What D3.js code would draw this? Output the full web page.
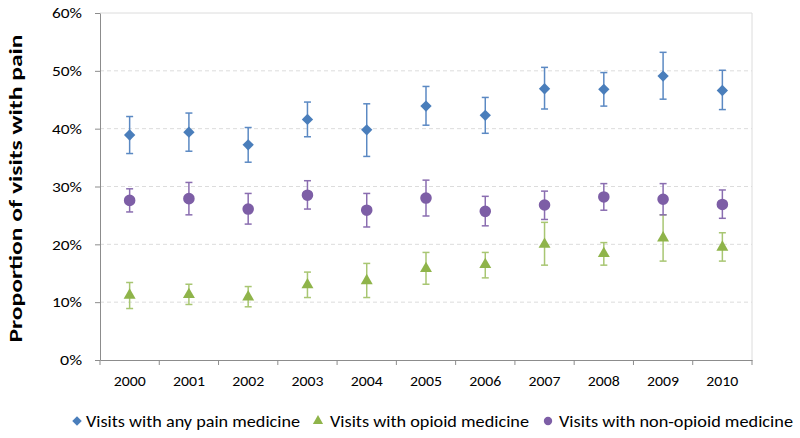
<!DOCTYPE html>
<html><head><meta charset="utf-8">
<script src="https://cdn.jsdelivr.net/npm/d3@7"></script>
<style>body{margin:0;background:#fff}svg{display:block}</style>
</head><body>
<script>
const years = ["2000","2001","2002","2003","2004","2005","2006","2007","2008","2009","2010"];
const anyPain = [38.9,39.4,37.2,41.6,39.8,43.9,42.3,46.9,46.8,49.1,46.6];
const anyPainLo = [35.7,36.1,34.2,38.6,35.2,40.6,39.2,43.4,43.9,45.1,43.3];
const anyPainHi = [42.1,42.7,40.2,44.6,44.3,47.3,45.4,50.6,49.7,53.2,50.1];
const opioid = [11.2,11.3,10.9,13.0,13.7,15.8,16.5,20.0,18.4,21.1,19.5];
const opioidLo = [8.9,9.6,9.2,10.8,10.8,13.1,14.2,16.4,16.4,17.1,17.1];
const opioidHi = [13.4,13.1,12.7,15.2,16.7,18.6,18.6,23.8,20.3,25.1,22.0];
const nonOpioid = [27.6,27.9,26.1,28.5,25.9,28.0,25.7,26.8,28.2,27.8,26.9];
const nonOpioidLo = [25.6,25.1,23.5,26.1,23.0,24.9,23.2,24.3,25.9,25.1,24.5];
const nonOpioidHi = [29.6,30.7,28.8,31.0,28.8,31.1,28.3,29.2,30.5,30.5,29.4];
const yTicks = [0,10,20,30,40,50,60];
const seriesNames = ["Visits with any pain medicine","Visits with opioid medicine","Visits with non-opioid medicine"];

const W=800,H=438;
const L=100,R=752,T=13,B=360;
const svg=d3.select("body").append("svg").attr("width",W).attr("height",H);
const font="Carlito, 'Open Sans', sans-serif";

const x=d3.scaleBand().domain(years).range([L,R]).paddingInner(0).paddingOuter(0);
const y=d3.scaleLinear().domain([0,60]).range([B,T]);

// grid
svg.append("g").selectAll("line").data(yTicks.filter(t=>t>0&&t<60)).join("line")
  .attr("x1",L).attr("x2",R).attr("y1",d=>y(d)).attr("y2",d=>y(d))
  .attr("stroke","#dcdcdc").attr("stroke-dasharray","4,3");
// plot border top/right
svg.append("path").attr("d",`M${L},${y(60)}H${R}V${B}`).attr("fill","none").attr("stroke","#dcdcdc");

// axes
const yAxis=d3.axisLeft(y).tickValues(yTicks).tickFormat(d=>d+"%").tickSize(5).tickSizeOuter(0);
const gy=svg.append("g").attr("transform",`translate(${L},0)`).call(yAxis);
gy.select(".domain").attr("stroke","#8c8c8c");
gy.selectAll(".tick line").attr("stroke","#8c8c8c");
gy.selectAll("text").attr("font-family",font).attr("font-size",15).attr("fill","#000").attr("x",-18)
  .attr("textLength",30).attr("lengthAdjust","spacingAndGlyphs");
gy.selectAll(".tick").filter(d=>d===0).select("text").attr("textLength",22);

const xAxis=d3.axisBottom(x).tickSize(0).tickSizeOuter(0);
const gx=svg.append("g").attr("transform",`translate(0,${B})`).call(xAxis);
gx.select(".domain").attr("stroke","#8c8c8c");
gx.selectAll("text").attr("font-family",font).attr("font-size",14).attr("fill","#000").attr("y",16).attr("dy","0.71em")
  .attr("textLength",32).attr("lengthAdjust","spacingAndGlyphs");
// boundary ticks
const bounds=years.map(d=>x(d)).concat([R]);
gx.append("g").selectAll("line").data(bounds).join("line")
  .attr("x1",d=>d).attr("x2",d=>d).attr("y1",0).attr("y2",5).attr("stroke","#8c8c8c");

// y title
svg.append("text").attr("transform",`translate(22,${(T+B)/2+2}) rotate(-90)`)
  .attr("text-anchor","middle").attr("font-family",font).attr("font-weight","bold")
  .attr("font-size",18).attr("textLength",308).attr("lengthAdjust","spacingAndGlyphs")
  .text("Proportion of visits with pain");

const diamond={draw(ctx,size){const r=Math.sqrt(size/2);ctx.moveTo(0,-r);ctx.lineTo(r,0);ctx.lineTo(0,r);ctx.lineTo(-r,0);ctx.closePath();}};
const series=[
  {v:anyPain,lo:anyPainLo,hi:anyPainHi,color:"#4a7ebb",err:"#5b89c3",sym:diamond,size:64},
  {v:opioid,lo:opioidLo,hi:opioidHi,color:"#8fb44a",err:"#a8c672",sym:d3.symbolTriangle,size:62},
  {v:nonOpioid,lo:nonOpioidLo,hi:nonOpioidHi,color:"#7d5ea6",err:"#8a6db0",sym:d3.symbolCircle,size:105}
];
const cx=d=>x(d)+x.bandwidth()/2;
series.forEach(s=>{
  const g=svg.append("g");
  years.forEach((yr,i)=>{
    const X=cx(yr);
    g.append("line").attr("x1",X).attr("x2",X).attr("y1",y(s.lo[i])).attr("y2",y(s.hi[i])).attr("stroke",s.err).attr("stroke-width",1.5);
    [s.lo[i],s.hi[i]].forEach(v=>g.append("line").attr("x1",X-3.5).attr("x2",X+3.5).attr("y1",y(v)).attr("y2",y(v)).attr("stroke",s.err).attr("stroke-width",1.5));
  });
});
series.forEach(s=>{
  svg.append("g").selectAll("path").data(years).join("path")
    .attr("transform",(d,i)=>`translate(${cx(d)},${y(s.v[i])})`)
    .attr("d",d3.symbol().type(s.sym).size(s.size)).attr("fill",s.color);
});

// legend
const leg=[{mx:77,tx:86,w:214},{mx:318,tx:330,w:199},{mx:548,tx:559,w:234}];
leg.forEach((l,i)=>{
  const s=series[i];
  svg.append("path").attr("transform",`translate(${l.mx},${421})`)
    .attr("d",d3.symbol().type(s.sym).size(i==2?55:45)).attr("fill",s.color);
  svg.append("text").attr("x",l.tx).attr("y",427).attr("font-family",font).attr("font-size",17)
    .attr("textLength",l.w).attr("lengthAdjust","spacingAndGlyphs").text(seriesNames[i]);
});
</script>
</body></html>
